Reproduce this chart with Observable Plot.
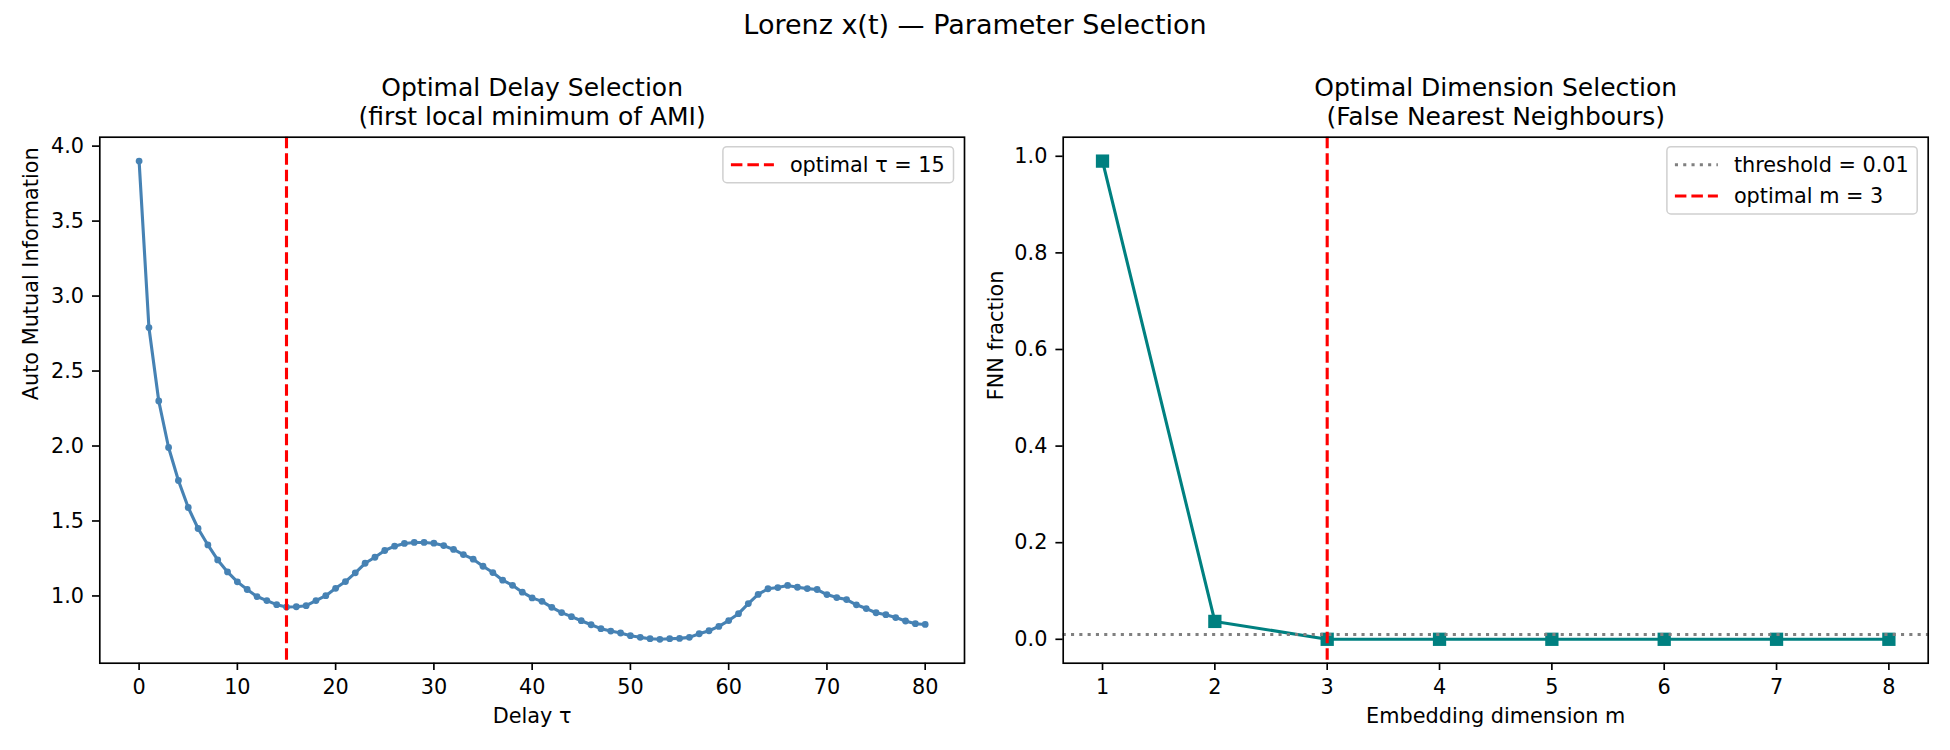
<!DOCTYPE html>
<html>
<head>
<meta charset="utf-8">
<script src="https://cdn.jsdelivr.net/npm/d3@7"></script>
<script src="https://cdn.jsdelivr.net/npm/@observablehq/plot@0.6"></script>
<style>
  body { margin: 0; background: #fff; }
  #fig { position: relative; width: 1950px; height: 750px; font-family: "DejaVu Sans"; background: #fff; }
  #fig svg { position: absolute; top: 0; }
  #suptitle { position: absolute; left: 0; top: 9px; width: 1950px; text-align: center;
              font-size: 27px; line-height: 32px; color: #000; }
</style>
</head>
<body>
<div id="fig"></div>
<script>
// ---- Auto mutual information vs. delay ----
const delayTau = [
  0, 1, 2, 3, 4, 5, 6, 7, 8, 9, 10, 11, 12, 13, 14, 15, 16, 17, 18, 19, 20,
  21, 22, 23, 24, 25, 26, 27, 28, 29, 30, 31, 32, 33, 34, 35, 36, 37, 38, 39, 40,
  41, 42, 43, 44, 45, 46, 47, 48, 49, 50, 51, 52, 53, 54, 55, 56, 57, 58, 59, 60,
  61, 62, 63, 64, 65, 66, 67, 68, 69, 70, 71, 72, 73, 74, 75, 76, 77, 78, 79, 80
];
const amiValues = [
  3.90, 2.79, 2.30, 1.99, 1.77, 1.59, 1.45, 1.34, 1.24, 1.16, 1.094,
  1.043, 0.996, 0.969, 0.942, 0.926, 0.928, 0.935, 0.969, 1.002, 1.051,
  1.096, 1.154, 1.218, 1.258, 1.303, 1.332, 1.350, 1.357, 1.357, 1.352,
  1.336, 1.310, 1.276, 1.245, 1.198, 1.156, 1.105, 1.071, 1.025, 0.987,
  0.964, 0.924, 0.889, 0.862, 0.835, 0.808, 0.782, 0.766, 0.753, 0.735,
  0.724, 0.715, 0.711, 0.715, 0.717, 0.724, 0.748, 0.768, 0.797, 0.836,
  0.882, 0.949, 1.010, 1.048, 1.056, 1.070, 1.058, 1.049, 1.043, 1.009,
  0.989, 0.976, 0.941, 0.916, 0.888, 0.875, 0.856, 0.833, 0.815, 0.810
];
const optimalTau = 15;
const amiXTicks = [0, 10, 20, 30, 40, 50, 60, 70, 80];
const amiYTicks = [1.0, 1.5, 2.0, 2.5, 3.0, 3.5, 4.0];

// ---- False nearest neighbours vs. embedding dimension ----
const embedDims = [1, 2, 3, 4, 5, 6, 7, 8];
const fnnFraction = [0.99, 0.037, 0, 0, 0, 0, 0, 0];
const fnnThreshold = 0.01;
const optimalM = 3;
const fnnXTicks = [1, 2, 3, 4, 5, 6, 7, 8];
const fnnYTicks = [0.0, 0.2, 0.4, 0.6, 0.8, 1.0];

const amiRows = delayTau.map((t, i) => ({tau: t, ami: amiValues[i]}));
const fnnRows = embedDims.map((m, i) => ({m, fnn: fnnFraction[i]}));

// 5% padding on each side of the data extent
const pad5 = ([lo, hi]) => [lo - 0.05 * (hi - lo), hi + 0.05 * (hi - lo)];
const f1 = d3.format(".1f");

const LW = 3.1;          // 1.5pt line width
const SPINE = 1.67;      // 0.8pt spine / tick width
const common = {
  width: 975, height: 750, marginTop: 136.7, marginBottom: 87.3,
  style: {fontFamily: "DejaVu Sans", fontSize: "20.8px", background: "transparent", color: "#000", overflow: "visible"}
};
const axisOpts = {tickSize: 7.3, strokeWidth: SPINE, label: null};
const titleOpts = {text: d => d, frameAnchor: "top", lineAnchor: "bottom", dy: -12, fontSize: 25, lineHeight: 1.17, fill: "#000"};
const xLabelOpts = {text: d => d, frameAnchor: "bottom", dy: 60, fill: "#000"};
const redDash = {stroke: "red", strokeWidth: LW, strokeDasharray: "11.5,5"};
const grayDots = {stroke: "gray", strokeWidth: LW, strokeDasharray: "3.1,5.2"};

const amiPlot = Plot.plot({
  ...common, marginLeft: 99.3, marginRight: 11,
  x: {domain: pad5(d3.extent(delayTau))},
  y: {domain: pad5(d3.extent(amiValues))},
  marks: [
    Plot.line(amiRows, {x: "tau", y: "ami", stroke: "steelblue", strokeWidth: LW}),
    Plot.dot(amiRows, {x: "tau", y: "ami", r: 3.4, fill: "steelblue"}),
    Plot.ruleX([optimalTau], redDash),
    Plot.frame({stroke: "#000", strokeWidth: SPINE}),
    Plot.axisX({...axisOpts, ticks: amiXTicks, tickPadding: 9}),
    Plot.axisY({...axisOpts, ticks: amiYTicks, tickPadding: 8.5, tickFormat: f1}),
    Plot.text(["Optimal Delay Selection\n(first local minimum of AMI)"], titleOpts),
    Plot.text(["Delay τ"], xLabelOpts),
    Plot.text(["Auto Mutual Information"], {text: d => d, frameAnchor: "left", rotate: -90, dx: -68, fill: "#000"})
  ]
});

const fnnPlot = Plot.plot({
  ...common, marginLeft: 87.7, marginRight: 22.3,
  x: {domain: pad5(d3.extent(embedDims))},
  y: {domain: pad5(d3.extent(fnnFraction))},
  marks: [
    Plot.line(fnnRows, {x: "m", y: "fnn", stroke: "teal", strokeWidth: LW}),
    Plot.dot(fnnRows, {x: "m", y: "fnn", symbol: "square", r: 7.5, fill: "teal"}),
    Plot.ruleY([fnnThreshold], grayDots),
    Plot.ruleX([optimalM], redDash),
    Plot.frame({stroke: "#000", strokeWidth: SPINE}),
    Plot.axisX({...axisOpts, ticks: fnnXTicks, tickPadding: 9}),
    Plot.axisY({...axisOpts, ticks: fnnYTicks, tickPadding: 8.5, tickFormat: f1}),
    Plot.text(["Optimal Dimension Selection\n(False Nearest Neighbours)"], titleOpts),
    Plot.text(["Embedding dimension m"], xLabelOpts),
    Plot.text(["FNN fraction"], {text: d => d, frameAnchor: "left", rotate: -90, dx: -67, fill: "#000"})
  ]
});

// Legend box in the upper-right corner of a panel
function addLegend(svg, frameRight, frameTop, boxWidth, entries) {
  const rowStep = 31.3, firstRow = 18;
  const boxH = 2 * firstRow + rowStep * (entries.length - 1);
  const x0 = frameRight - 10.5 - boxWidth, y0 = frameTop + 10;
  const g = d3.select(svg).append("g").attr("text-anchor", "start");
  g.append("rect").attr("x", x0).attr("y", y0).attr("width", boxWidth).attr("height", boxH)
    .attr("rx", 4).attr("fill", "#fff").attr("fill-opacity", 0.8)
    .attr("stroke", "#d0d0d0").attr("stroke-width", 1.5);
  entries.forEach((e, i) => {
    const cy = y0 + firstRow + i * rowStep;
    g.append("line").attr("x1", x0 + 8).attr("x2", x0 + 51).attr("y1", cy).attr("y2", cy)
      .attr("stroke", e.stroke).attr("stroke-width", LW).attr("stroke-dasharray", e.dash);
    g.append("text").attr("x", x0 + 67).attr("y", cy).attr("dy", "0.33em")
      .attr("text-anchor", "start")
      .attr("fill", "#000").attr("font-size", "20.8px").text(e.label);
  });
}

addLegend(amiPlot, 975 - 11, 136.7, 230.6, [
  {label: `optimal τ = ${optimalTau}`, stroke: "red", dash: "11.5,5"}
]);
addLegend(fnnPlot, 975 - 22.3, 136.7, 250.3, [
  {label: `threshold = ${fnnThreshold}`, stroke: "gray", dash: "3.1,5.2"},
  {label: `optimal m = ${optimalM}`, stroke: "red", dash: "11.5,5"}
]);

const fig = document.getElementById("fig");
amiPlot.style.left = "0px";
fnnPlot.style.left = "975px";
fig.appendChild(amiPlot);
fig.appendChild(fnnPlot);
const sup = document.createElement("div");
sup.id = "suptitle";
sup.textContent = "Lorenz x(t) — Parameter Selection";
fig.appendChild(sup);
</script>
</body>
</html>
